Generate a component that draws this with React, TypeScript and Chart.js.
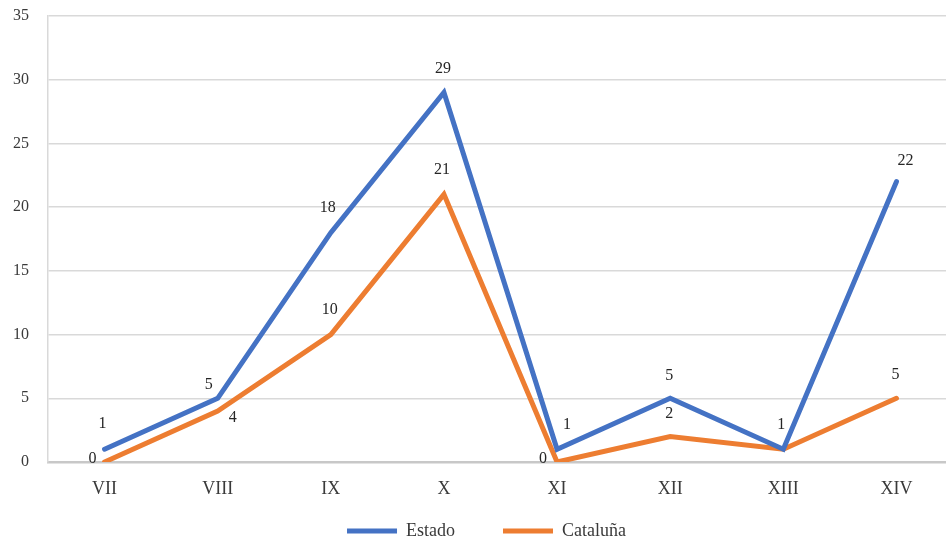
import { useEffect, useRef } from "react";
import { Chart, registerables } from "chart.js";

Chart.register(...registerables);

const categories = ["VII", "VIII", "IX", "X", "XI", "XII", "XIII", "XIV"];
const estado = [1, 5, 18, 29, 1, 5, 1, 22];
const cataluna = [0, 4, 10, 21, 0, 2, 1, 5];
const yMin = 0;
const yMax = 35;
const yStep = 5;

// Where each value label sits relative to its point (dx, dy); null skips it
const estadoLabelOffsets: ([number, number] | null)[] = [
  [-2, -25], [-9, -13], [-3, -25], [-1, -24], [10, -24], [-1, -22], [-2, -24], [9, -21],
];
const catalunaLabelOffsets: ([number, number] | null)[] = [
  [-12, -3], [15, 7], [-1, -25], [-2, -25], [-14, -3], [-1, -23], null, [-1, -23],
];

const FONT = "'Liberation Serif', 'DejaVu Serif', serif";
const TEXT = "#3a3a3a";
const BLUE = "#4472C4";
const ORANGE = "#ED7D31";

const PLOT_TOP = 16;
const PLOT_BOTTOM = 462;
const X_AXIS_H = 45;
const LEGEND_FONT = 18;
const LEGEND_PAD = 48;
const LEGEND_Y = 531;
const LEGEND_H = LEGEND_FONT + LEGEND_PAD + 10;
const CANVAS_W = 953;
const CANVAS_H = PLOT_BOTTOM + X_AXIS_H + LEGEND_H;

const valueLabels = {
  id: "valueLabels",
  afterDatasetsDraw(chart: Chart) {
    const ctx = chart.ctx;
    ctx.save();
    ctx.font = `16px ${FONT}`;
    ctx.fillStyle = "#262626";
    ctx.textAlign = "center";
    ctx.textBaseline = "middle";
    chart.data.datasets.forEach((ds: any, i: number) => {
      const meta = chart.getDatasetMeta(i);
      const offsets = ds.labelOffsets as ([number, number] | null)[];
      meta.data.forEach((el: any, j: number) => {
        const off = offsets[j];
        if (!off) return;
        ctx.fillText(String(ds.data[j]), el.x + off[0], el.y + off[1]);
      });
    });
    ctx.restore();
  },
};

// Nudges the legend row so it sits just under the category labels
const legendShift = {
  id: "legendShift",
  afterLayout(chart: Chart) {
    const lg: any = (chart as any).legend;
    if (lg) {
      const dy = lg.top + LEGEND_PAD + LEGEND_FONT / 2 - LEGEND_Y;
      lg.left += 10;
      lg.right += 10;
      lg.top -= dy;
      lg.bottom -= dy;
    }
  },
};

export default function App() {
  const ref = useRef<HTMLCanvasElement>(null);

  useEffect(() => {
    if (!ref.current) return;
    const chart = new Chart(ref.current, {
      type: "line",
      data: {
        labels: categories,
        datasets: [
          {
            label: "Estado",
            data: estado,
            borderColor: BLUE,
            backgroundColor: BLUE,
            borderWidth: 5,
            borderCapStyle: "round",
            pointRadius: 0,
            pointHoverRadius: 0,
            tension: 0,
            labelOffsets: estadoLabelOffsets,
          } as any,
          {
            label: "Cataluña",
            data: cataluna,
            borderColor: ORANGE,
            backgroundColor: ORANGE,
            borderWidth: 5,
            borderCapStyle: "round",
            pointRadius: 0,
            pointHoverRadius: 0,
            tension: 0,
            labelOffsets: catalunaLabelOffsets,
          } as any,
        ],
      },
      options: {
        animation: false,
        responsive: false,
        events: [],
        layout: { padding: { top: PLOT_TOP, left: 0, right: 0, bottom: 0 } },
        scales: {
          x: {
            offset: true,
            grid: { display: false, drawTicks: false },
            border: { display: true, color: "#c8c8c8", width: 2.5 },
            ticks: {
              font: { family: FONT, size: 18 },
              color: TEXT,
              padding: 16,
              maxRotation: 0,
              autoSkip: false,
            },
            afterFit(scale: any) {
              scale.height = X_AXIS_H;
            },
          },
          y: {
            min: yMin,
            max: yMax,
            grid: {
              color: "#d9d9d9",
              lineWidth: 1.5,
              drawTicks: false,
            },
            border: { display: true, color: "#d9d9d9", width: 1.5 },
            ticks: {
              stepSize: yStep,
              font: { family: FONT, size: 16 },
              color: TEXT,
              padding: 19,
            },
            afterFit(scale: any) {
              scale.width = 48;
              scale.paddingTop = 10;
              scale.paddingBottom = 10;
            },
          },
        },
        plugins: {
          tooltip: { enabled: false },
          legend: {
            position: "bottom",
            labels: {
              usePointStyle: true,
              pointStyle: "line",
              pointStyleWidth: 50,
              font: { family: FONT, size: LEGEND_FONT },
              color: TEXT,
              padding: LEGEND_PAD,
            },
          },
        },
      },
      plugins: [valueLabels, legendShift],
    });
    return () => chart.destroy();
  }, []);

  return (
    <div
      style={{
        position: "fixed",
        left: 0,
        top: 0,
        width: 946,
        height: 541,
        overflow: "hidden",
        background: "#ffffff",
      }}
    >
      <canvas ref={ref} width={CANVAS_W} height={CANVAS_H} style={{ display: "block" }} />
    </div>
  );
}
